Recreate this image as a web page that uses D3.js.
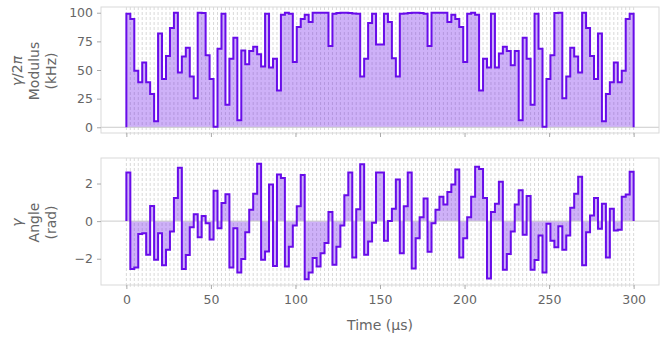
<!DOCTYPE html>
<html>
<head>
<meta charset="utf-8">
<script src="https://cdn.jsdelivr.net/npm/d3@7"></script>
<style>
  body { margin: 0; background: #fff; }
  text { font-family: "DejaVu Sans", sans-serif; }
</style>
</head>
<body>
<svg id="chart" width="666" height="340"></svg>
<script>
// Piecewise-constant drive γ(t): 128 segments over 300 µs
const duration = 300;          // µs
const segmentCount = 128;

// γ/2π modulus per segment (kHz)
const modulus = [
  99, 94.5, 49.3, 39.2, 56.5, 39.2, 29.1, 5.2, 81.8, 42.1, 62.2, 86.7, 100, 47.8, 61.7, 69.5,
  44.4, 25.4, 100, 99.7, 62.8, 42.1, 0.5, 68.6, 99, 19.6, 59.9, 78.1, 6.1, 67.1, 55, 66.6,
  70.3, 63.7, 53, 99, 52.2, 59.9, 32, 98.3, 100, 99, 57, 87.6, 94.5, 98.3, 92, 100,
  100, 100, 100, 70.9, 99, 99.7, 100, 100, 99.7, 99.4, 99, 44.4, 59.9, 91, 99, 72.3,
  72.3, 99, 92, 60.2, 44.4, 99, 99.4, 99.7, 100, 100, 99.7, 99, 70.9, 100, 100, 100,
  100, 92, 98.3, 94.5, 87.6, 57, 99, 100, 98.3, 32, 59.9, 52.2, 99, 52.2, 64.5, 70.3,
  66.6, 54.2, 66.6, 6.1, 78.1, 59.9, 19.6, 99, 68.6, 0.5, 42.1, 62.8, 99.7, 100, 25.4, 44.4,
  69.5, 61.7, 47.8, 100, 86.7, 62.2, 42.1, 81.8, 5.2, 29.1, 39.2, 56.5, 39.2, 49.3, 94.5, 99
];

// γ angle per segment (rad)
const angle = [
  2.59, -2.55, -2.46, -0.68, -0.64, -1.79, 0.80, -2.05, -0.64, -2.34, -1.52, -0.55, 1.23, 2.84, -2.55, -1.80,
  -0.32, 0.36, -0.86, 0.27, -0.11, -0.98, 1.61, -0.38, 0.96, 1.43, -2.46, -0.38, -2.73, -2.02, -0.59, 0.61,
  1.45, 3.05, -2.05, -1.61, 1.95, -2.38, 2.48, 2.30, -2.41, -1.36, -0.23, 0.79, 2.45, -3.09, -2.73, -1.96,
  -2.41, -1.71, -1.16, 0.48, -2.32, -1.36, -0.23, 1.38, 2.59, -1.93, 0.63, 3.02, -1.79, -1.09, -0.09, 2.59,
  2.59, -1.04, 0.00, 0.66, 2.21, -1.71, 0.79, 2.59, -2.52, -0.91, 0.21, 1.20, -1.63, -0.11, 0.61, 1.29,
  0.88, 1.55, 1.95, 2.75, -1.93, -0.91, 0.21, 1.29, 2.89, 2.77, 1.23, -3.05, 0.48, 0.93, 2.09, -2.59,
  -1.75, -0.55, 0.88, 1.64, -0.73, 1.34, -2.59, -2.07, -0.77, -2.73, -0.14, -1.04, -1.39, -0.27, -1.52, -0.77,
  0.71, 1.46, 2.36, -2.34, -0.59, 0.30, 1.23, -0.41, 0.93, -1.93, 0.66, -0.50, -0.46, 1.29, 1.41, 2.63
];

const timeTicks = [0, 50, 100, 150, 200, 250, 300];
const modulusTicks = [0, 25, 50, 75, 100];
const angleTicks = [-2, 0, 2];

const purple = "#680CE9";
const textColor = "#666666";
const spineColor = "#d9d9d9";

const svg = d3.select("#chart");

const segDur = duration / segmentCount;
const boundaries = d3.range(segmentCount + 1).map(i => i * segDur);

const x = d3.scaleLinear().domain([-15, 315]).range([101, 659]);

const panels = [
  { values: modulus, top: 7, bottom: 133, ticks: modulusTicks, symbol: "γ/2π", name: "Modulus", unit: "(kHz)", showTimeLabels: false },
  { values: angle, top: 158, bottom: 285, ticks: angleTicks, symbol: "γ", name: "Angle", unit: "(rad)", showTimeLabels: true }
];

panels.forEach(p => {
  const lo = Math.min(0, d3.min(p.values));
  const hi = Math.max(0, d3.max(p.values));
  const pad = (hi - lo) * 0.05;
  const y = d3.scaleLinear().domain([lo - pad, hi + pad]).range([p.bottom, p.top]);
  const g = svg.append("g");

  // segment-boundary grid
  g.append("g").selectAll("line").data(boundaries).join("line")
    .attr("x1", d => x(d)).attr("x2", d => x(d))
    .attr("y1", p.top).attr("y2", p.bottom)
    .attr("stroke", "#cfcfcf").attr("stroke-width", 0.8)
    .attr("stroke-dasharray", "3,2");

  // step points: start and end on the baseline
  const pts = [[0, 0]].concat(p.values.map((v, i) => [boundaries[i], v]), [[duration, p.values[p.values.length - 1]], [duration, 0]]);
  const stepPts = p.values.map((v, i) => [boundaries[i], v]).concat([[duration, p.values[p.values.length - 1]]]);

  g.append("path")
    .datum(stepPts)
    .attr("d", d3.area().curve(d3.curveStepAfter).x(d => x(d[0])).y0(y(0)).y1(d => y(d[1])))
    .attr("fill", purple).attr("fill-opacity", 0.32);

  // zero line
  g.append("line")
    .attr("x1", x.range()[0]).attr("x2", x.range()[1])
    .attr("y1", y(0)).attr("y2", y(0))
    .attr("stroke", "#cccccc").attr("stroke-width", 1);

  g.append("path")
    .datum(pts)
    .attr("d", d3.line().curve(d3.curveStepAfter).x(d => x(d[0])).y(d => y(d[1])))
    .attr("fill", "none").attr("stroke", purple).attr("stroke-width", 2)
    .attr("stroke-linejoin", "miter");

  // frame
  g.append("rect")
    .attr("x", x.range()[0]).attr("y", p.top)
    .attr("width", x.range()[1] - x.range()[0]).attr("height", p.bottom - p.top)
    .attr("fill", "none").attr("stroke", spineColor).attr("stroke-width", 1);

  // y axis
  const ya = g.append("g").attr("transform", `translate(${x.range()[0]},0)`)
    .call(d3.axisLeft(y).tickValues(p.ticks).tickSize(4).tickPadding(4).tickFormat(d3.format("d")));
  ya.select(".domain").remove();
  ya.selectAll(".tick line").attr("stroke", "#aaaaaa");
  ya.selectAll(".tick text").attr("fill", textColor).style("font-size", "12.5px").style("font-family", "DejaVu Sans");

  // minor x ticks at segment boundaries
  g.append("g").selectAll("line").data(boundaries).join("line")
    .attr("x1", d => x(d)).attr("x2", d => x(d))
    .attr("y1", p.bottom).attr("y2", p.bottom + 2)
    .attr("stroke", "#cccccc").attr("stroke-width", 0.6);

  // major x ticks
  const xa = g.append("g").attr("transform", `translate(0,${p.bottom})`)
    .call(d3.axisBottom(x).tickValues(timeTicks).tickSize(4).tickPadding(6).tickFormat(d3.format("d")));
  xa.select(".domain").remove();
  xa.selectAll(".tick line").attr("stroke", "#aaaaaa");
  xa.selectAll(".tick text").attr("fill", textColor).style("font-size", "12.5px").style("font-family", "DejaVu Sans");
  if (!p.showTimeLabels) xa.selectAll(".tick text").remove();

  // three-line rotated y label
  const cy = (p.top + p.bottom) / 2 + 1;
  const lab = g.append("g").attr("fill", textColor).style("font-size", "14px");
  const sym = lab.append("text").attr("transform", `translate(17,${cy}) rotate(-90)`)
    .attr("text-anchor", "middle").attr("dominant-baseline", "central");
  if (p.symbol === "γ/2π") {
    sym.append("tspan").attr("font-style", "italic").text("γ");
    sym.append("tspan").text("/2");
    sym.append("tspan").attr("font-style", "italic").text("π");
  } else {
    sym.append("tspan").attr("font-style", "italic").text(p.symbol);
  }
  lab.append("text").attr("transform", `translate(34,${cy}) rotate(-90)`)
    .attr("text-anchor", "middle").attr("dominant-baseline", "central").text(p.name);
  lab.append("text").attr("transform", `translate(51,${cy}) rotate(-90)`)
    .attr("text-anchor", "middle").attr("dominant-baseline", "central").text(p.unit);
});

svg.append("text")
  .attr("x", (x.range()[0] + x.range()[1]) / 2).attr("y", 330)
  .attr("text-anchor", "middle").attr("fill", textColor).style("font-size", "14px")
  .text("Time (µs)");
</script>
</body>
</html>
